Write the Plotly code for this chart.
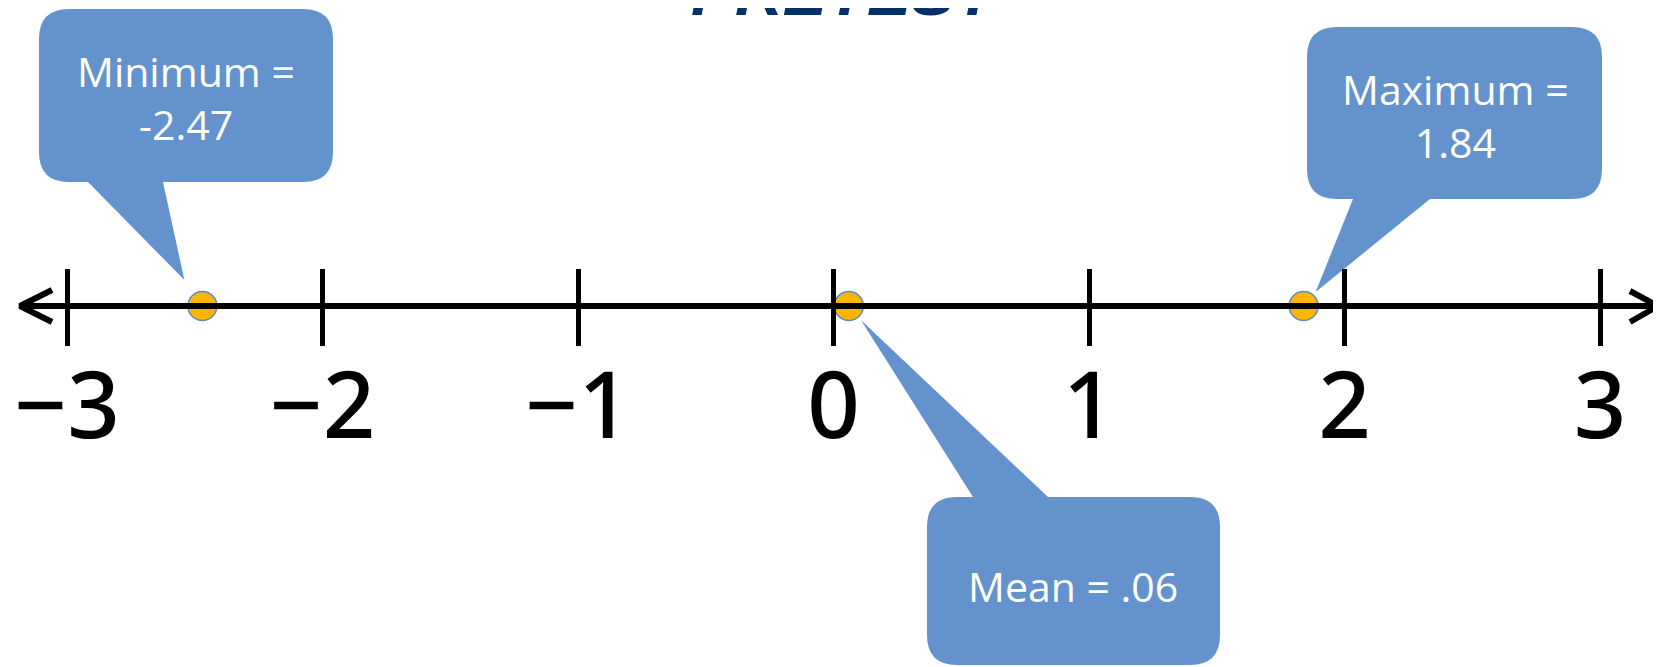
import plotly.graph_objects as go

# summary statistics shown on the number line
stat_names = ["Minimum", "Mean", "Maximum"]
stat_values = [-2.47, 0.06, 1.84]
stat_texts = ["Minimum =<br>-2.47", "Mean = .06", "Maximum =<br>1.84"]

tick_values = [-3, -2, -1, 0, 1, 2, 3]
tick_labels = ["−3", "−2", "−1", "0", "1", "2", "3"]

title_text = "PRETEST"

# page pixels; the html body adds an 8px margin, so the figure is a bit smaller
PAGE_W, PAGE_H = 1661, 667
OFF = 8
W, H = PAGE_W - OFF, PAGE_H - OFF
UNIT = 255.5       # pixels per unit on the number line
X3_PX = 67         # page pixel of x = -3
LINE_PX = 306      # page pixel row of the number line

BLUE = "#6392CC"
ORANGE = "#FFB400"


def px_x(px):
    return -3 + (px - X3_PX) / UNIT


def px_y(py):
    return LINE_PX - py


def val_px(v):
    return X3_PX + (v + 3) * UNIT


def callout_path(box, base, tip, r=30):
    """rounded box with a pointed tail, coordinates given in page pixels"""
    x0, y0, x1, y1 = box
    b0, b1 = base
    tx, ty = tip
    segs = [("M", [(x0 + r, y0)])]
    if ty < y0:
        segs += [("L", [(b0, y0)]), ("L", [(tx, ty)]), ("L", [(b1, y0)])]
    segs += [("L", [(x1 - r, y0)]), ("Q", [(x1, y0), (x1, y0 + r)]),
             ("L", [(x1, y1 - r)]), ("Q", [(x1, y1), (x1 - r, y1)])]
    if ty > y1:
        segs += [("L", [(b1, y1)]), ("L", [(tx, ty)]), ("L", [(b0, y1)])]
    segs += [("L", [(x0 + r, y1)]), ("Q", [(x0, y1), (x0, y1 - r)]),
             ("L", [(x0, y0 + r)]), ("Q", [(x0, y0), (x0 + r, y0)])]
    out = []
    for cmd, pts in segs:
        out.append(cmd + " ".join(f"{px_x(x):.4f},{px_y(y):.2f}" for x, y in pts))
    return " ".join(out) + " Z"


# callout layout in page pixels: box, tail base, tail tip offset from the point, text centre
callouts = [
    dict(box=(39, 9, 333, 182), base=(88, 163), off=(-18, -26), text=(186, 97)),
    dict(box=(927, 497, 1220, 665), base=(973, 1048), off=(12, 14), text=(1073, 586)),
    dict(box=(1307, 27, 1602, 199), base=(1353, 1430), off=(12, -14), text=(1455, 115)),
]

fig = go.Figure()

# number line
fig.add_trace(go.Scatter(
    x=[px_x(21), px_x(1657)], y=[0, 0], mode="lines",
    line=dict(color="black", width=6), xaxis="x2", hoverinfo="skip",
))
# arrow heads
for pts in ([(52, 290), (20, 306), (52, 322)], [(1630, 291), (1658, 306), (1630, 322)]):
    fig.add_trace(go.Scatter(
        x=[px_x(p[0]) for p in pts], y=[px_y(p[1]) for p in pts], mode="lines",
        line=dict(color="black", width=6), hoverinfo="skip",
    ))

# the statistic points
fig.add_trace(go.Scatter(
    x=stat_values, y=[0] * len(stat_values), mode="markers",
    marker=dict(size=29, color=ORANGE, line=dict(color="#5B8BC9", width=1.5)),
    text=stat_names, hoverinfo="text+x",
))

shapes = []
annotations = []
for v, c, t in zip(stat_values, callouts, stat_texts):
    tip = (val_px(v) + c["off"][0], LINE_PX + c["off"][1])
    shapes.append(dict(
        type="path", path=callout_path(c["box"], c["base"], tip),
        xref="x", yref="y", fillcolor=BLUE, line=dict(width=0), layer="below",
    ))
    annotations.append(dict(
        x=px_x(c["text"][0]), y=px_y(c["text"][1]), xref="x", yref="y",
        text=t, showarrow=False,
        font=dict(family="Open Sans", size=41, color="white"),
    ))

# title, mostly cut off at the top as in the slide
annotations.append(dict(
    x=(845 - OFF) / W, y=(PAGE_H - 31) / H, xref="paper", yref="paper",
    yanchor="bottom", text=f"<b><i>{title_text}</i></b>", showarrow=False,
    font=dict(family="Liberation Sans", size=66, color="#06306B"),
))

axis_pos = (PAGE_H - LINE_PX) / H
fig.update_layout(
    width=W, height=H,
    margin=dict(l=0, r=0, t=0, b=0),
    plot_bgcolor="white", paper_bgcolor="white",
    showlegend=False,
    shapes=shapes, annotations=annotations,
    xaxis=dict(
        range=[px_x(OFF), px_x(PAGE_W)], anchor="free", position=axis_pos,
        tickvals=tick_values, ticktext=tick_labels,
        ticks="outside", ticklen=39, tickwidth=5, tickcolor="black",
        ticklabelstandoff=-18,
        tickfont=dict(family="Noto Sans", size=92, color="black", weight=500),
        showline=False, showgrid=False, zeroline=False, fixedrange=True,
    ),
    xaxis2=dict(
        matches="x", overlaying="x", anchor="free", position=axis_pos,
        tickvals=tick_values, ticks="inside", ticklen=37, tickwidth=5,
        tickcolor="black", showticklabels=False,
        showline=False, showgrid=False, zeroline=False, fixedrange=True,
    ),
    yaxis=dict(range=[px_y(PAGE_H), px_y(OFF)], visible=False, fixedrange=True),
)

fig.write_html("out.html")
